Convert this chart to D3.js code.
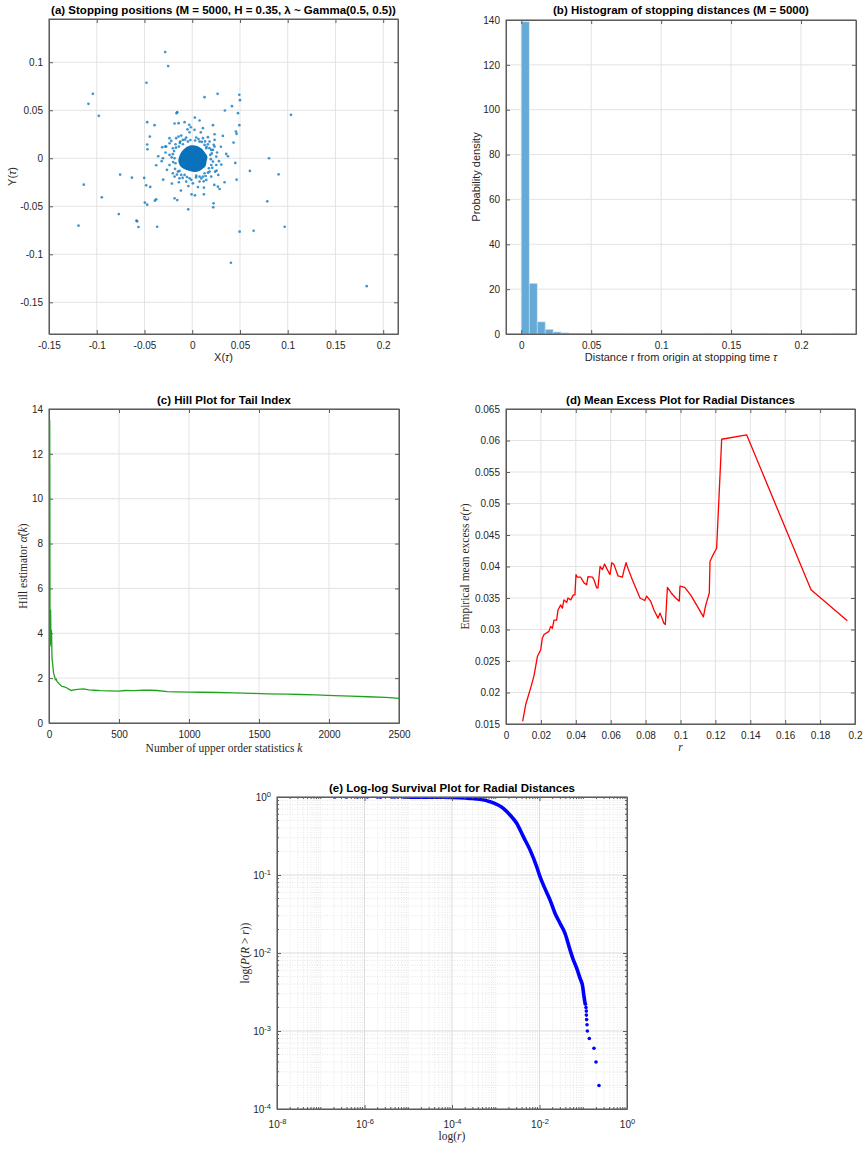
<!DOCTYPE html>
<html>
<head>
<meta charset="utf-8">
<script src="https://cdn.jsdelivr.net/npm/d3@7"></script>
<style>
  body { margin: 0; background: #fff; }
  svg { font-family: "Liberation Sans", Arial, sans-serif; }
  .tick text { font-family: "Liberation Sans", Arial, sans-serif; font-size: 10px; fill: #262626; }
  .title { font-weight: bold; font-size: 11.5px; fill: #000; }
  .lab { font-size: 11px; fill: #262626; }
  .tex { font-family: "Liberation Serif", "DejaVu Serif", serif; font-size: 11.5px; fill: #262626; }
</style>
</head>
<body>
<div id="fig"></div>
<script>
// (a) stopping positions [X(tau), Y(tau)]
const stopPoints = [
  [0.0957, 0.1453], [-0.0283, 0.1106], [-0.0252, 0.0960], [-0.1041, 0.0671], [-0.1087, 0.0567],
  [-0.0978, 0.0442], [-0.0479, 0.0786], [0.0266, 0.0671], [0.0129, 0.0636], [0.0493, 0.0661],
  [0.0500, 0.0605], [0.0416, 0.0542], [0.0342, 0.0497], [0.0479, 0.0469], [0.1034, 0.0452],
  [0.0493, 0.0344], [-0.0472, 0.0376], [-0.0395, 0.0344], [-0.0164, 0.0469], [-0.0157, 0.0480],
  [0.0028, 0.0424], [0.0077, 0.0393], [0.0112, 0.0313], [0.0217, 0.0344], [0.0164, 0.0219],
  [0.0321, 0.0233], [0.0234, 0.0250], [0.0458, 0.0278], [0.0465, 0.0254], [0.0433, 0.0163],
  [-0.0444, 0.0226], [-0.0472, 0.0143], [-0.0468, 0.0094], [-0.0314, 0.0115], [-0.0283, 0.0122],
  [-0.0356, 0.0021], [-0.0377, -0.0073], [-0.0307, 0.0000], [-0.0185, 0.0362], [-0.0143, 0.0365],
  [-0.0080, 0.0376], [-0.0031, 0.0348], [-0.0014, 0.0323], [-0.0238, 0.0209], [-0.0143, 0.0226],
  [0.0356, 0.0045], [0.0374, 0.0021], [0.0451, -0.0049], [0.0304, -0.0066], [0.0804, 0.0000],
  [0.0905, -0.0167], [0.0604, -0.0132], [0.0465, -0.0223], [0.0339, -0.0250], [0.0273, -0.0174],
  [0.0255, -0.0129], [0.0287, -0.0320], [0.0269, -0.0296], [0.0231, -0.0278], [0.0122, -0.0306],
  [0.0122, -0.0376], [0.0028, -0.0386], [-0.0007, -0.0376], [-0.0042, -0.0532], [0.0224, -0.0469],
  [0.0220, -0.0511], [-0.0185, -0.0417], [-0.0157, -0.0435], [-0.0119, -0.0337], [-0.0213, -0.0264],
  [-0.0304, -0.0223], [-0.0377, -0.0428], [-0.0391, -0.0442], [-0.0496, -0.0462], [-0.0472, -0.0483],
  [-0.0440, -0.0299], [-0.0482, -0.0282], [-0.0503, -0.0205], [-0.0632, -0.0202], [-0.0755, -0.0170],
  [-0.0947, -0.0407], [-0.1136, -0.0275], [-0.1191, -0.0702], [-0.0769, -0.0581], [-0.0584, -0.0650],
  [-0.0577, -0.0657], [-0.0563, -0.0716], [-0.0367, -0.0713], [-0.0622, -0.1843], [0.0405, -0.1088],
  [0.0496, -0.0765], [0.0643, -0.0755], [0.0786, -0.0449], [0.0968, -0.0713], [0.1827, -0.1332],
  // points round the dense core
  [0.0024, 0.0296], [-0.0028, 0.0271], [-0.0115, 0.0236], [-0.0168, 0.0209], [-0.0063, 0.0216],
  [0.0234, 0.0191], [0.0182, 0.0174], [-0.0238, 0.0156], [-0.0273, 0.0122], [0.0252, 0.0017],
  [0.0217, 0.0087], [0.0252, -0.0070], [0.0147, -0.0226], [0.0182, -0.0139], [0.0199, -0.0191],
  [0.0112, -0.0191], [0.0007, -0.0261], [0.0077, -0.0243], [-0.0063, -0.0243], [-0.0115, -0.0174],
  [-0.0150, -0.0139], [-0.0133, -0.0209], [-0.0185, -0.0191], [-0.0203, -0.0156], [-0.0238, -0.0070],
  [-0.0203, 0.0042], [-0.0238, 0.0035], [0.0217, -0.0035], [0.0234, 0.0122], [-0.0203, 0.0104],
  [-0.0175, 0.0146], [-0.0098, 0.0191], [0.0042, 0.0216], [0.0112, 0.0209], [0.0164, 0.0146],
  [-0.0140, 0.0122], [0.0147, 0.0104], [0.0189, 0.0035], [0.0175, -0.0104], [0.0077, -0.0191],
  [-0.0080, -0.0174], [-0.0175, -0.0052], [-0.0126, 0.0174], [0.0077, 0.0174], [-0.0028, -0.0209],
  [0.0199, -0.0070], [-0.0185, 0.0000], [0.0042, -0.0181], [0.0129, 0.0139], [-0.0098, 0.0146],
  [-0.0045, 0.0174], [0.0129, -0.0156], [-0.0133, -0.0132], [0.0199, 0.0087],
  [0.0150, 0.0120], [0.0180, 0.0105], [0.0205, 0.0050], [0.0195, -0.0010], [0.0210, -0.0100],
  [0.0165, -0.0150], [0.0140, -0.0185], [0.0095, -0.0210], [0.0040, -0.0200], [-0.0010, -0.0225],
  [-0.0055, -0.0195], [-0.0100, -0.0205], [-0.0160, -0.0170], [-0.0180, -0.0110], [-0.0200, -0.0040],
  [-0.0215, 0.0010], [-0.0190, 0.0075], [-0.0170, 0.0110], [-0.0130, 0.0160], [-0.0075, 0.0195],
  [-0.0020, 0.0190], [0.0030, 0.0185], [0.0065, 0.0200], [0.0100, 0.0170], [0.0135, 0.0175],
  [0.0225, 0.0140], [0.0260, 0.0060], [0.0240, -0.0140], [0.0120, -0.0240], [-0.0040, -0.0290],
  [-0.0140, -0.0250], [-0.0265, -0.0120], [-0.0280, 0.0060], [-0.0220, 0.0180], [-0.0050, 0.0300],
  [0.0090, 0.0270], [0.0280, -0.0030], [0.0300, 0.0120], [-0.0320, -0.0030], [0.0060, -0.0300]
];
// outline of the solid core where the dots merge
const coreOutline = [
  [-0.0010, 0.0135], [0.0050, 0.0128], [0.0100, 0.0098], [0.0128, 0.0065], [0.0158, 0.0020],
  [0.0150, -0.0035], [0.0140, -0.0080], [0.0105, -0.0112], [0.0070, -0.0135], [0.0020, -0.0142],
  [-0.0035, -0.0130], [-0.0085, -0.0112], [-0.0125, -0.0080], [-0.0145, -0.0030], [-0.0135, 0.0020],
  [-0.0112, 0.0068], [-0.0070, 0.0110]
];
const xTicksA = [-0.15, -0.1, -0.05, 0, 0.05, 0.1, 0.15, 0.2];
const yTicksA = [-0.15, -0.1, -0.05, 0, 0.05, 0.1];

// (b) histogram (pdf normalisation)
const binWidth = 0.0057;
const binDensity = [139.2, 22.6, 5.4, 2.1, 0.9, 0.5, 0.3, 0.2, 0.15, 0.1, 0.06, 0.05, 0.03, 0.02, 0.02,
  0, 0, 0, 0, 0, 0, 0, 0, 0.02, 0, 0, 0, 0, 0, 0, 0.02, 0, 0, 0.02, 0, 0, 0, 0, 0, 0.02];
const xTicksB = [0, 0.05, 0.1, 0.15, 0.2];
const yTicksB = [0, 20, 40, 60, 80, 100, 120, 140];

// (c) Hill estimator
const hillK = [1, 2, 3, 5, 7, 9, 11, 13, 15, 17, 20, 24, 29, 35, 41, 48, 53, 60, 64, 75, 89, 100, 124, 140,
  155, 175, 200, 243, 280, 320, 363, 420, 494, 540, 601, 673, 720, 768, 840, 900, 1000, 1078, 1200, 1317,
  1450, 1555, 1700, 1794, 1900, 2032, 2150, 2271, 2400, 2500];
const hillAlpha = [13.5, 9.0, 3.4, 4.6, 5.05, 4.2, 3.5, 4.15, 3.7, 2.9, 2.75, 2.5, 2.2, 2.1, 1.93, 1.95, 1.85,
  1.8, 1.78, 1.7, 1.63, 1.62, 1.56, 1.5, 1.45, 1.48, 1.5, 1.52, 1.48, 1.46, 1.44, 1.43, 1.42, 1.45, 1.44,
  1.47, 1.46, 1.45, 1.4, 1.39, 1.38, 1.37, 1.36, 1.34, 1.32, 1.3, 1.29, 1.27, 1.25, 1.22, 1.2, 1.17, 1.14, 1.1];
const xTicksC = [0, 500, 1000, 1500, 2000, 2500];
const yTicksC = [0, 2, 4, 6, 8, 10, 12, 14];

// (d) mean excess
const meR = [0.00955, 0.0113, 0.0141, 0.016, 0.018, 0.0199, 0.0208, 0.0218, 0.0246, 0.0256, 0.0266, 0.0275,
  0.029, 0.0298, 0.0313, 0.0323, 0.0332, 0.0348, 0.0355, 0.0371, 0.0386, 0.0395, 0.0401, 0.0409, 0.0428,
  0.0447, 0.0462, 0.047, 0.0495, 0.0504, 0.052, 0.0527, 0.0539, 0.0552, 0.0565, 0.0577, 0.0596, 0.0606,
  0.0619, 0.0642, 0.0667, 0.0676, 0.0688, 0.0699, 0.0724, 0.0768, 0.0795, 0.0806, 0.0829, 0.0848, 0.0871,
  0.0883, 0.0905, 0.0913, 0.0919, 0.0925, 0.0947, 0.0972, 0.0993, 0.0997, 0.1024, 0.1058, 0.1096, 0.1131,
  0.1144, 0.1165, 0.1169, 0.1182, 0.1207, 0.1236, 0.1379, 0.1748, 0.1956];
const meE = [0.0154, 0.0181, 0.0207, 0.0226, 0.0257, 0.0268, 0.0286, 0.0292, 0.0297, 0.0305, 0.0302, 0.0315,
  0.0315, 0.0331, 0.0339, 0.0334, 0.0347, 0.0343, 0.035, 0.0347, 0.0355, 0.0355, 0.0387, 0.0383, 0.0383,
  0.0374, 0.0371, 0.0384, 0.0383, 0.0379, 0.0366, 0.0366, 0.04, 0.0395, 0.0404, 0.0397, 0.0387, 0.0406,
  0.0403, 0.0385, 0.0383, 0.0394, 0.0406, 0.0397, 0.0379, 0.035, 0.0346, 0.0353, 0.0345, 0.0331, 0.0318,
  0.0326, 0.031, 0.0308, 0.0337, 0.0367, 0.0358, 0.035, 0.0345, 0.0369, 0.0367, 0.0355, 0.0337, 0.032,
  0.0338, 0.0358, 0.0408, 0.0416, 0.0429, 0.0602, 0.0609, 0.0363, 0.0314];
const xTicksD = [0, 0.02, 0.04, 0.06, 0.08, 0.1, 0.12, 0.14, 0.16, 0.18, 0.2];
const yTicksD = [0.015, 0.02, 0.025, 0.03, 0.035, 0.04, 0.045, 0.05, 0.055, 0.06, 0.065];

// (e) empirical survival P(R > r)
const headR = [2.12e-7, 3.78e-7, 6.85e-7, 1.16e-6, 1.96e-6, 2.26e-6, 2.38e-6, 4.25e-6, 4.81e-6, 5.73e-6];
const headP = [0.9998, 0.9996, 0.9994, 0.9992, 0.999, 0.9988, 0.9986, 0.9984, 0.9982, 0.998];
const bandR = [7.7e-6, 1.86e-5, 5.32e-5, 1.0e-4, 1.52e-4, 2.58e-4, 4.37e-4, 7.4e-4, 1.49e-3, 2.12e-3, 3.01e-3,
  4.27e-3, 6.07e-3, 8.61e-3, 0.01026, 0.01224, 0.01738, 0.0226, 0.0294, 0.0383, 0.0498, 0.0593, 0.0707,
  0.0843, 0.097, 0.104, 0.1096];
const bandP = [0.998, 0.996, 0.993, 0.989, 0.98, 0.961, 0.933, 0.871, 0.716, 0.588, 0.46, 0.31, 0.21, 0.128,
  0.0955, 0.0746, 0.048, 0.0324, 0.0241, 0.0179, 0.011, 0.00817, 0.0064, 0.00476, 0.00372, 0.00277, 0.00228];
const tailR = [0.1125, 0.1156, 0.1175, 0.118, 0.1196, 0.122, 0.124, 0.1377, 0.176, 0.1955, 0.229];
const tailP = [0.0022, 0.002, 0.0018, 0.0016, 0.0014, 0.0012, 0.001, 0.0008, 0.0006, 0.0004, 0.0002];
const xTicksE = [1e-8, 1e-6, 1e-4, 1e-2, 1];
const yTicksE = [1e-4, 1e-3, 1e-2, 1e-1, 1];

const W = 868, H = 1150;
const svg = d3.select("#fig").append("svg").attr("width", W).attr("height", H);

const pA = {x: 49, y: 19, w: 349, h: 315};
const pB = {x: 506, y: 20, w: 350, h: 314};
const pC = {x: 49, y: 409, w: 350, h: 314};
const pD = {x: 506, y: 409, w: 349, h: 315};
const pE = {x: 277, y: 797, w: 350, h: 312};

const gridColor = "#e3e3e3";
const axisColor = "#5c5c5c";

function panel(p, id) {
  const g = svg.append("g").attr("transform", `translate(${p.x},${p.y})`);
  g.append("clipPath").attr("id", id).append("rect").attr("width", p.w).attr("height", p.h);
  return g;
}

function grid(g, p, x, y, xs, ys, color, dash) {
  const gg = g.append("g").attr("stroke", color).attr("stroke-width", 1).attr("fill", "none");
  if (dash) gg.attr("stroke-dasharray", dash);
  gg.selectAll("line.gx").data(xs).join("line").attr("class", "gx")
    .attr("x1", d => x(d)).attr("x2", d => x(d)).attr("y1", 0).attr("y2", p.h);
  gg.selectAll("line.gy").data(ys).join("line").attr("class", "gy")
    .attr("y1", d => y(d)).attr("y2", d => y(d)).attr("x1", 0).attr("x2", p.w);
}

// returns [bottom, left] axis groups
function frame(g, p, x, y, xs, ys, fx, fy) {
  const b = g.append("g").attr("transform", `translate(0,${p.h})`).style("color", axisColor)
    .call(d3.axisBottom(x).tickValues(xs).tickFormat(fx).tickSizeInner(-4).tickSizeOuter(0).tickPadding(8));
  g.append("g").style("color", axisColor)
    .call(d3.axisTop(x).tickValues(xs).tickFormat("").tickSizeInner(-4).tickSizeOuter(0));
  const l = g.append("g").style("color", axisColor)
    .call(d3.axisLeft(y).tickValues(ys).tickFormat(fy).tickSizeInner(-4).tickSizeOuter(0).tickPadding(6));
  g.append("g").attr("transform", `translate(${p.w},0)`).style("color", axisColor)
    .call(d3.axisRight(y).tickValues(ys).tickFormat("").tickSizeInner(-4).tickSizeOuter(0));
  g.append("rect").attr("width", p.w).attr("height", p.h)
    .attr("fill", "none").attr("stroke", axisColor).attr("stroke-width", 1);
  return [b, l];
}

// text with italic pieces: parts = [[str, italic], ...]
function rich(parent, x, y, parts, cls, rotate) {
  const t = parent.append("text").attr("class", cls).attr("text-anchor", "middle");
  if (rotate) t.attr("transform", `translate(${x},${y}) rotate(-90)`);
  else t.attr("x", x).attr("y", y);
  parts.forEach(([s, it]) => t.append("tspan").attr("font-style", it ? "italic" : null).text(s));
  return t;
}

function title(p, dy, s) {
  svg.append("text").attr("class", "title").attr("text-anchor", "middle")
    .attr("x", p.x + p.w / 2).attr("y", p.y - dy).text(s);
}

const fmt = d => String(d);

// ---------- (a) scatter ----------
{
  const x = d3.scaleLinear().domain([-0.15, 0.2155]).range([0, pA.w]);
  const y = d3.scaleLinear().domain([-0.183, 0.145]).range([pA.h, 0]);
  const g = panel(pA, "clipA");
  grid(g, pA, x, y, xTicksA, yTicksA, gridColor);
  const d = g.append("g").attr("clip-path", "url(#clipA)");
  d.append("path").datum(coreOutline)
    .attr("d", d3.line().x(v => x(v[0])).y(v => y(v[1])).curve(d3.curveCardinalClosed))
    .attr("fill", "#0a72bb");
  d.selectAll("circle").data(stopPoints).join("circle")
    .attr("cx", v => x(v[0])).attr("cy", v => y(v[1])).attr("r", 1.35)
    .attr("fill", "#0072bd").attr("fill-opacity", 0.75);
  frame(g, pA, x, y, xTicksA, yTicksA, fmt, fmt);
  title(pA, 5, "(a) Stopping positions (M = 5000, H = 0.35, \u03bb ~ Gamma(0.5, 0.5))");
  rich(svg, pA.x + pA.w / 2, 361, [["X(", false], ["\u03c4", true], [")", false]], "lab");
  rich(svg, 16, pA.y + pA.h / 2, [["Y(", false], ["\u03c4", true], [")", false]], "lab", true);
}

// ---------- (b) histogram ----------
{
  const x = d3.scaleLinear().domain([-0.0109, 0.2393]).range([0, pB.w]);
  const y = d3.scaleLinear().domain([0, 140]).range([pB.h, 0]);
  const g = panel(pB, "clipB");
  grid(g, pB, x, y, xTicksB, yTicksB, gridColor);
  g.append("g").attr("clip-path", "url(#clipB)")
    .selectAll("rect").data(binDensity).join("rect")
    .attr("x", (v, i) => x(i * binWidth)).attr("width", x(binWidth) - x(0))
    .attr("y", v => y(v)).attr("height", v => y(0) - y(v))
    .attr("fill", "#66aad7").attr("stroke", "#cfe2f2").attr("stroke-width", 0.6);
  frame(g, pB, x, y, xTicksB, yTicksB, fmt, fmt);
  title(pB, 6, "(b) Histogram of stopping distances (M = 5000)");
  rich(svg, pB.x + pB.w / 2, 361, [["Distance r from origin at stopping time ", false], ["\u03c4", true]], "lab");
  rich(svg, 480, pB.y + pB.h / 2, [["Probability density", false]], "lab", true);
}

// ---------- (c) Hill plot ----------
{
  const x = d3.scaleLinear().domain([0, 2500]).range([0, pC.w]);
  const y = d3.scaleLinear().domain([0, 14]).range([pC.h, 0]);
  const g = panel(pC, "clipC");
  grid(g, pC, x, y, xTicksC, yTicksC, gridColor);
  frame(g, pC, x, y, xTicksC, yTicksC, fmt, fmt);
  g.append("path")
    .datum(d3.zip(hillK, hillAlpha))
    .attr("d", d3.line().x(v => x(v[0]) + 0.6).y(v => y(v[1])))
    .attr("fill", "none").attr("stroke", "#1fa31f").attr("stroke-width", 1.3);
  title(pC, 5, "(c) Hill Plot for Tail Index");
  rich(svg, pC.x + pC.w / 2, 752, [["Number of upper order statistics ", false], ["k", true]], "tex");
  rich(svg, 27, pC.y + pC.h / 2, [["Hill estimator ", false], ["\u03b1\u0302", true], ["(", false], ["k", true], [")", false]], "tex", true);
}

// ---------- (d) mean excess ----------
{
  const x = d3.scaleLinear().domain([0, 0.2]).range([0, pD.w]);
  const y = d3.scaleLinear().domain([0.015, 0.065]).range([pD.h, 0]);
  const g = panel(pD, "clipD");
  grid(g, pD, x, y, xTicksD, yTicksD, gridColor);
  frame(g, pD, x, y, xTicksD, yTicksD, fmt, fmt);
  g.append("path").attr("clip-path", "url(#clipD)")
    .datum(d3.zip(meR, meE))
    .attr("d", d3.line().x(v => x(v[0])).y(v => y(v[1])))
    .attr("fill", "none").attr("stroke", "#ff0000").attr("stroke-width", 1.3)
    .attr("stroke-linejoin", "round");
  title(pD, 5, "(d) Mean Excess Plot for Radial Distances");
  rich(svg, pD.x + pD.w / 2, 751, [["r", true]], "tex");
  rich(svg, 469, pD.y + pD.h / 2, [["Empirical mean excess ", false], ["e", true], ["(", false], ["r", true], [")", false]], "tex", true);
}

// ---------- (e) log-log survival ----------
{
  const x = d3.scaleLog().domain([1e-8, 1]).range([0, pE.w]);
  const y = d3.scaleLog().domain([1e-4, 1]).range([pE.h, 0]);
  const g = panel(pE, "clipE");
  const minorX = x.ticks().filter(v => !xTicksE.includes(v));
  const minorY = y.ticks().filter(v => !yTicksE.includes(v));
  grid(g, pE, x, y, minorX, minorY, "#e6e6e6", "1,1.5");
  grid(g, pE, x, y, xTicksE, yTicksE, "#dcdcdc");
  const d = g.append("g").attr("clip-path", "url(#clipE)");
  d.append("path").datum(d3.zip(bandR, bandP))
    .attr("d", d3.line().x(v => x(v[0])).y(v => y(v[1])).curve(d3.curveMonotoneX))
    .attr("fill", "none").attr("stroke", "#0000ff").attr("stroke-width", 3.6)
    .attr("stroke-linecap", "round").attr("stroke-linejoin", "round");
  d.selectAll("circle").data(d3.zip(headR.concat(tailR), headP.concat(tailP))).join("circle")
    .attr("cx", v => x(v[0])).attr("cy", v => y(v[1])).attr("r", 1.8).attr("fill", "#0000ff");
  // minor ticks
  const mt = g.append("g").attr("stroke", axisColor).attr("stroke-width", 1);
  mt.selectAll("line.mx").data(minorX).join("line").attr("class", "mx")
    .attr("x1", v => x(v)).attr("x2", v => x(v)).attr("y1", pE.h).attr("y2", pE.h - 2);
  mt.selectAll("line.mx2").data(minorX).join("line").attr("class", "mx2")
    .attr("x1", v => x(v)).attr("x2", v => x(v)).attr("y1", 0).attr("y2", 2);
  mt.selectAll("line.my").data(minorY).join("line").attr("class", "my")
    .attr("y1", v => y(v)).attr("y2", v => y(v)).attr("x1", 0).attr("x2", 2);
  mt.selectAll("line.my2").data(minorY).join("line").attr("class", "my2")
    .attr("y1", v => y(v)).attr("y2", v => y(v)).attr("x1", pE.w).attr("x2", pE.w - 2);
  const [bAx, lAx] = frame(g, pE, x, y, xTicksE, yTicksE, () => "", () => "");
  const sup = function(v) {
    const t = d3.select(this);
    t.text("10");
    t.append("tspan").attr("dy", "-0.55em").attr("font-size", "7.5px").text(Math.round(Math.log10(v)));
  };
  bAx.selectAll(".tick text").each(sup).attr("dy", "1.1em");
  lAx.selectAll(".tick text").each(sup);
  title(pE, 5, "(e) Log-log Survival Plot for Radial Distances");
  rich(svg, pE.x + pE.w / 2, 1140, [["log(", false], ["r", true], [")", false]], "tex");
  rich(svg, 249, pE.y + pE.h / 2, [["log(", false], ["P", true], ["(", false], ["R", true], [" > ", false], ["r", true], ["))", false]], "tex", true);
}
</script>
</body>
</html>
